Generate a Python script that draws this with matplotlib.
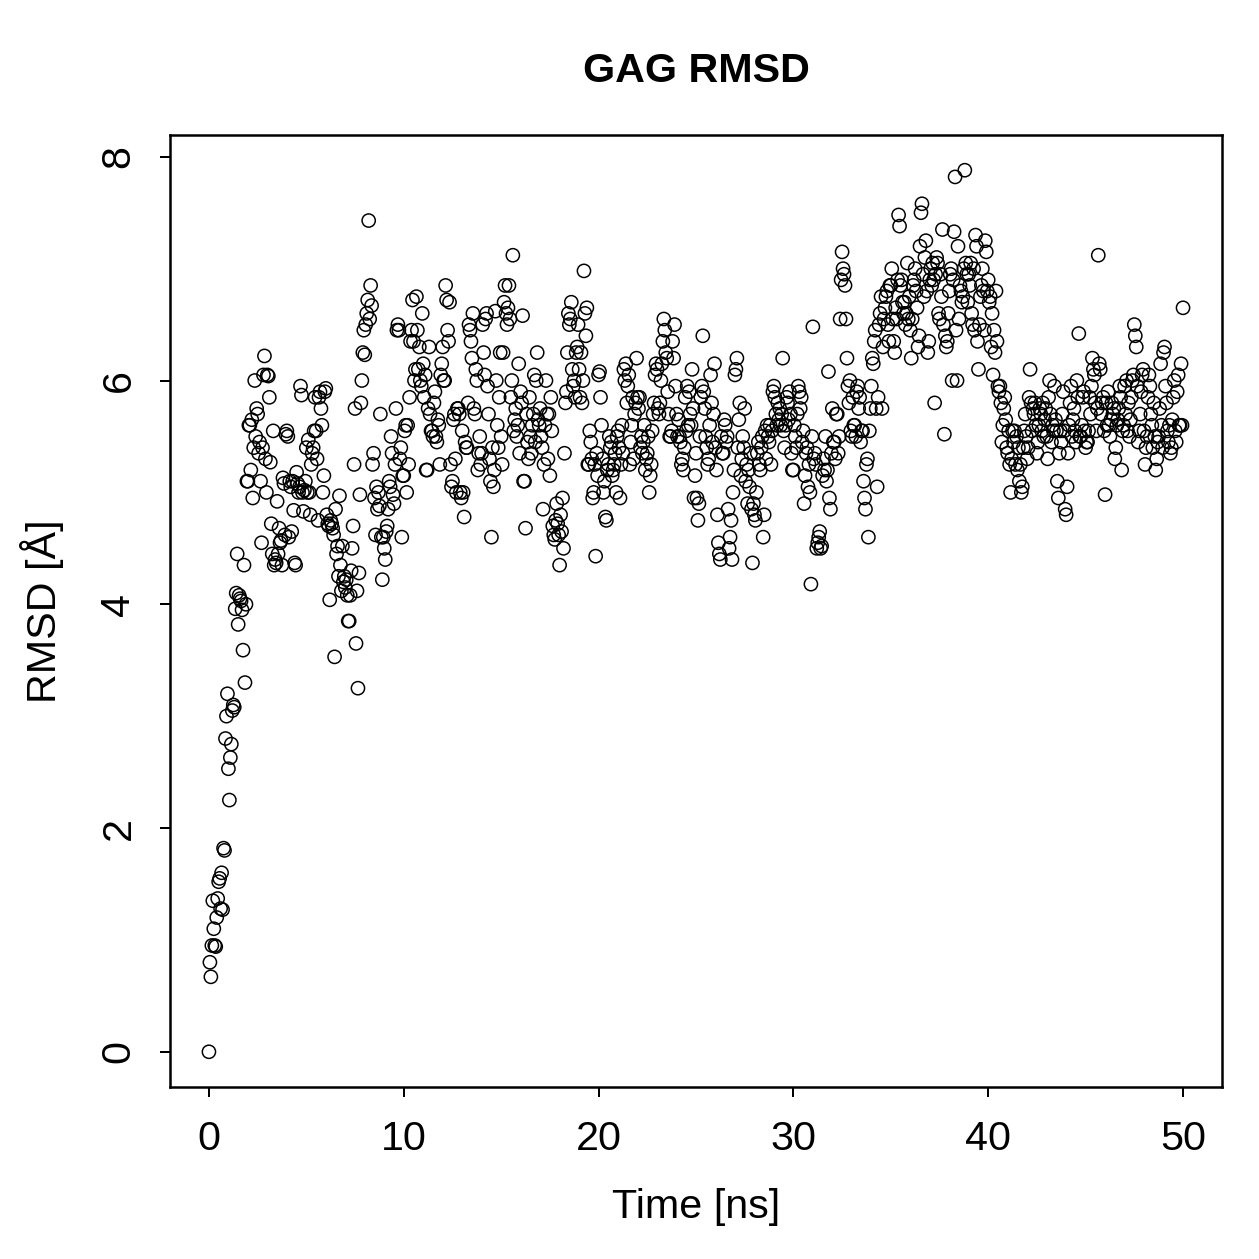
import numpy as np
import matplotlib.pyplot as plt

plt.rcParams['font.family'] = ['Liberation Sans', 'DejaVu Sans']

# RMSD values (Angstrom), one frame every 0.05 ns (1 ns per row)
rmsd_rows = [
    [0.00, 0.80, 0.67, 0.95, 1.35, 1.10, 0.95, 0.94, 1.20, 1.37, 1.52, 1.55, 1.28, 1.60, 1.27, 1.82, 1.80, 2.80, 3.00, 3.20],
    [2.53, 2.25, 2.63, 2.75, 3.05, 3.10, 3.08, 3.96, 4.10, 4.45, 3.82, 4.08, 4.05, 4.03, 3.95, 3.59, 4.35, 3.30, 4.00, 5.10],
    [5.10, 5.60, 5.60, 5.20, 5.65, 4.95, 5.40, 6.00, 5.50, 5.75, 5.70, 5.35, 5.45, 5.10, 4.55, 5.40, 6.05, 6.22, 5.30, 5.00],
    [6.05, 6.04, 5.85, 5.27, 4.72, 4.45, 5.55, 4.35, 4.40, 4.37, 4.92, 4.45, 4.68, 4.55, 4.57, 4.35, 5.13, 5.08, 4.62, 5.52],
    [5.55, 5.50, 4.60, 5.10, 5.05, 4.65, 5.10, 4.84, 4.37, 4.35, 5.18, 5.08, 5.00, 5.05, 5.95, 5.87, 5.00, 4.83, 5.02, 5.10],
    [5.40, 5.00, 5.47, 5.00, 4.80, 5.25, 5.35, 5.40, 5.55, 5.85, 5.55, 5.30, 4.75, 5.85, 5.90, 5.75, 5.60, 5.00, 5.15, 5.90],
    [5.93, 4.80, 4.72, 4.70, 4.04, 4.75, 4.72, 4.68, 4.62, 3.53, 4.85, 4.45, 4.52, 4.25, 4.97, 4.35, 4.12, 4.52, 4.20, 4.25],
    [4.15, 4.22, 4.08, 3.85, 3.85, 4.08, 4.30, 4.50, 4.70, 5.25, 5.75, 3.65, 4.12, 3.25, 4.28, 4.98, 5.80, 6.00, 6.25, 6.45],
    [6.23, 6.50, 6.60, 6.72, 7.43, 6.55, 6.85, 6.67, 5.25, 5.35, 4.95, 4.62, 5.05, 4.85, 5.00, 4.88, 5.70, 4.60, 4.22, 4.60],
    [4.50, 4.40, 4.65, 4.70, 4.85, 5.10, 5.05, 5.50, 5.35, 4.98, 4.90, 5.25, 5.75, 6.45, 6.50, 6.45, 5.30, 5.40, 4.60, 5.15],
    [5.15, 5.55, 5.60, 5.00, 5.60, 5.25, 5.85, 6.35, 6.45, 6.72, 6.35, 6.00, 6.10, 6.75, 6.45, 6.10, 6.30, 6.00, 5.95, 6.60],
    [6.15, 5.85, 6.05, 5.20, 5.20, 5.75, 6.30, 5.70, 5.55, 5.55, 5.50, 5.80, 5.90, 5.50, 5.45, 5.65, 5.60, 5.25, 6.05, 6.15],
    [6.30, 6.00, 6.00, 6.85, 6.72, 6.45, 6.35, 6.70, 5.25, 5.05, 5.10, 5.65, 5.70, 5.30, 5.00, 5.75, 5.75, 5.70, 5.00, 4.95],
    [5.55, 5.00, 4.78, 5.45, 5.40, 5.40, 5.80, 6.50, 6.45, 6.35, 6.20, 6.60, 5.75, 5.70, 6.10, 6.00, 5.20, 5.35, 5.50, 5.25],
    [5.35, 6.50, 6.25, 6.05, 6.55, 6.60, 5.95, 5.70, 5.30, 5.10, 4.60, 5.40, 5.05, 5.20, 6.62, 6.00, 5.60, 5.40, 5.85, 6.25],
    [5.50, 5.25, 6.25, 6.70, 6.85, 6.60, 6.50, 6.65, 6.85, 6.55, 5.85, 6.00, 7.12, 5.55, 5.65, 5.75, 5.50, 5.60, 6.15, 5.35],
    [5.90, 5.80, 6.58, 5.10, 5.10, 4.68, 5.70, 5.45, 5.30, 5.85, 5.50, 5.35, 5.60, 5.70, 6.05, 5.45, 6.00, 6.25, 5.65, 5.60],
    [5.75, 5.50, 5.40, 4.85, 5.25, 5.60, 6.00, 5.70, 5.30, 5.70, 5.15, 5.85, 5.55, 4.70, 4.62, 4.58, 4.75, 4.90, 4.72, 4.62],
    [4.35, 4.80, 4.65, 4.95, 4.50, 5.35, 5.80, 5.90, 6.25, 6.60, 6.50, 6.55, 6.70, 6.10, 5.95, 6.00, 5.85, 6.25, 6.30, 6.50],
    [6.10, 5.85, 6.25, 5.80, 6.00, 6.98, 6.60, 6.40, 6.65, 5.25, 5.25, 5.55, 5.45, 5.30, 4.95, 5.00, 5.25, 4.43, 5.35, 5.15],
    [6.05, 6.08, 5.85, 5.60, 5.30, 5.00, 5.10, 4.78, 4.75, 5.20, 5.25, 5.50, 5.40, 5.45, 5.15, 5.20, 5.25, 5.35, 5.00, 5.50],
    [5.55, 5.40, 4.95, 5.25, 5.60, 5.35, 6.10, 6.00, 6.15, 5.80, 5.95, 6.05, 5.25, 5.45, 5.60, 5.85, 5.30, 5.70, 5.80, 6.20],
    [5.85, 5.75, 5.85, 5.40, 5.50, 5.35, 5.45, 5.60, 5.20, 5.30, 5.35, 5.50, 5.00, 5.15, 5.25, 5.55, 5.70, 5.80, 6.05, 6.15],
    [6.10, 5.75, 5.70, 5.80, 6.00, 6.15, 6.35, 6.55, 6.45, 6.25, 6.20, 5.90, 5.70, 5.50, 5.50, 5.55, 6.35, 6.20, 6.50, 5.95],
    [5.70, 5.50, 5.65, 5.50, 5.45, 5.25, 5.30, 5.20, 5.40, 5.85, 5.55, 5.95, 5.60, 5.90, 5.70, 5.60, 6.10, 5.75, 4.95, 5.15],
    [5.35, 4.95, 4.75, 4.90, 5.50, 5.85, 5.95, 6.40, 5.90, 5.75, 5.50, 5.40, 5.25, 5.30, 5.60, 6.05, 5.80, 5.45, 5.70, 6.15],
    [5.40, 5.20, 4.80, 4.55, 4.45, 4.40, 5.50, 5.35, 5.35, 5.65, 5.60, 5.45, 5.50, 4.85, 4.50, 4.60, 4.75, 4.40, 5.00, 5.20],
    [6.05, 6.10, 6.20, 5.40, 5.65, 5.80, 5.15, 5.30, 5.50, 5.40, 5.75, 5.10, 5.25, 4.90, 5.20, 5.05, 5.35, 4.85, 4.37, 4.90],
    [4.80, 4.75, 5.00, 5.35, 5.45, 5.25, 5.20, 5.40, 5.50, 4.60, 4.80, 5.55, 5.30, 5.60, 5.50, 5.45, 5.60, 5.25, 5.55, 5.90],
    [5.95, 5.85, 5.70, 5.60, 5.80, 5.65, 5.75, 5.60, 5.70, 6.20, 5.55, 5.40, 5.60, 5.85, 5.80, 5.65, 5.90, 5.70, 5.35, 5.20],
    [5.20, 5.60, 5.50, 5.40, 5.70, 5.95, 5.90, 5.75, 5.85, 5.45, 5.55, 4.90, 5.15, 5.35, 5.40, 5.05, 5.25, 5.00, 4.18, 5.50],
    [6.48, 5.30, 5.35, 5.25, 4.50, 4.55, 4.60, 4.65, 4.50, 4.52, 5.15, 5.30, 5.20, 5.50, 5.10, 5.20, 6.08, 4.95, 4.85, 5.35],
    [5.75, 5.45, 5.45, 5.30, 5.70, 5.70, 5.35, 5.50, 6.55, 6.90, 7.15, 7.00, 6.95, 6.85, 6.55, 6.20, 5.95, 5.80, 6.00, 5.55],
    [5.50, 5.85, 5.60, 5.60, 5.50, 5.90, 5.95, 5.75, 5.85, 5.45, 5.55, 5.55, 5.10, 4.95, 4.85, 5.25, 5.30, 4.60, 5.55, 5.75],
    [5.95, 6.20, 6.15, 6.35, 6.45, 5.75, 5.05, 5.85, 6.50, 6.60, 6.75, 5.75, 6.30, 6.55, 6.65, 6.75, 6.80, 6.50, 6.35, 6.85],
    [6.85, 7.00, 6.55, 6.35, 6.25, 6.65, 6.55, 6.90, 7.48, 7.38, 6.85, 6.90, 6.70, 6.60, 6.70, 6.50, 6.60, 7.05, 6.55, 6.75],
    [6.45, 6.20, 6.55, 6.85, 6.90, 7.00, 6.80, 6.65, 6.30, 6.40, 7.20, 7.50, 7.58, 6.95, 6.75, 7.10, 7.25, 6.80, 6.25, 6.35],
    [6.90, 7.00, 6.85, 7.05, 6.90, 5.80, 6.95, 7.10, 7.05, 6.60, 6.55, 6.95, 6.75, 7.35, 6.50, 5.52, 6.40, 6.30, 6.35, 6.60],
    [6.80, 6.95, 7.00, 6.00, 6.90, 7.33, 7.82, 6.45, 6.00, 7.20, 6.55, 6.85, 6.80, 6.70, 6.75, 7.00, 7.88, 7.05, 6.95, 6.70],
    [6.95, 6.85, 7.05, 6.60, 6.50, 7.00, 6.45, 7.30, 7.20, 6.35, 6.10, 6.50, 6.75, 6.85, 7.00, 6.80, 6.45, 7.25, 7.15, 6.80],
    [6.90, 6.70, 6.75, 6.30, 6.60, 6.05, 6.45, 6.25, 6.80, 6.35, 5.95, 5.90, 5.95, 5.80, 5.45, 5.60, 5.75, 5.85, 5.65, 5.40],
    [5.35, 5.55, 5.25, 5.00, 5.30, 5.55, 5.45, 5.55, 5.25, 5.50, 5.20, 5.40, 5.10, 5.25, 5.00, 5.05, 5.40, 5.55, 5.70, 5.50],
    [5.30, 5.40, 5.85, 6.10, 5.80, 5.55, 5.75, 5.70, 5.80, 5.60, 5.35, 5.45, 5.60, 5.75, 5.70, 5.55, 5.80, 5.50, 5.65, 5.75],
    [5.50, 5.30, 5.85, 6.00, 5.70, 5.45, 5.60, 5.55, 5.95, 5.65, 5.55, 5.10, 4.95, 5.35, 5.55, 5.45, 5.70, 5.90, 5.55, 4.85],
    [4.80, 5.05, 5.35, 5.60, 5.80, 5.95, 5.50, 5.65, 5.75, 5.55, 5.45, 6.00, 5.85, 6.42, 5.50, 5.50, 5.60, 5.85, 5.90, 5.55],
    [5.40, 5.45, 5.45, 5.55, 5.85, 5.70, 5.95, 6.20, 6.10, 6.05, 5.80, 5.55, 5.75, 7.12, 6.15, 6.10, 5.70, 5.80, 5.85, 5.55],
    [4.98, 5.80, 5.60, 5.90, 5.60, 5.50, 5.65, 5.80, 5.70, 5.75, 5.30, 5.40, 5.60, 5.65, 5.75, 5.95, 5.85, 5.20, 5.55, 5.60],
    [5.95, 5.70, 6.00, 5.55, 5.80, 5.50, 5.65, 5.85, 6.00, 6.05, 6.50, 6.40, 6.30, 5.95, 5.45, 5.55, 5.70, 5.90, 6.05, 6.10],
    [5.55, 5.25, 5.40, 5.50, 5.85, 6.05, 5.95, 5.70, 5.60, 5.40, 5.80, 5.50, 5.20, 5.30, 5.45, 5.50, 5.75, 6.15, 5.60, 5.40],
    [6.25, 6.30, 5.95, 5.80, 5.55, 5.45, 5.60, 5.35, 5.40, 5.65, 5.85, 6.00, 5.55, 5.45, 5.90, 6.05, 5.60, 5.60, 6.15, 5.60],
    [6.65],
]

rmsd = np.concatenate([np.array(r) for r in rmsd_rows])
time_ns = np.arange(len(rmsd)) * 0.05

fig = plt.figure(figsize=(1259 / 180, 1259 / 180), dpi=180)
ax = fig.add_axes([0.135, 0.1366, 0.8356, 0.7562])

ax.scatter(time_ns, rmsd, s=28, facecolors='none', edgecolors='black', linewidths=0.6)

ax.set_xlim(-2, 52)
ax.set_ylim(-0.315, 8.195)
ax.set_xticks([0, 10, 20, 30, 40, 50])
ax.set_yticks([0, 2, 4, 6, 8])
ax.tick_params(direction='out', length=4, width=0.8, labelsize=16.5, pad=9)
for lab in ax.get_yticklabels():
    lab.set_rotation(90)
    lab.set_va('center')
for sp in ax.spines.values():
    sp.set_linewidth(1.0)

ax.set_title("GAG RMSD", fontsize=16.5, fontweight='bold', pad=21)
ax.set_xlabel("Time [ns]", fontsize=16.5, labelpad=12)
ax.set_ylabel("RMSD [Å]", fontsize=16.5, labelpad=14)

fig.savefig("out.png", dpi=180)
